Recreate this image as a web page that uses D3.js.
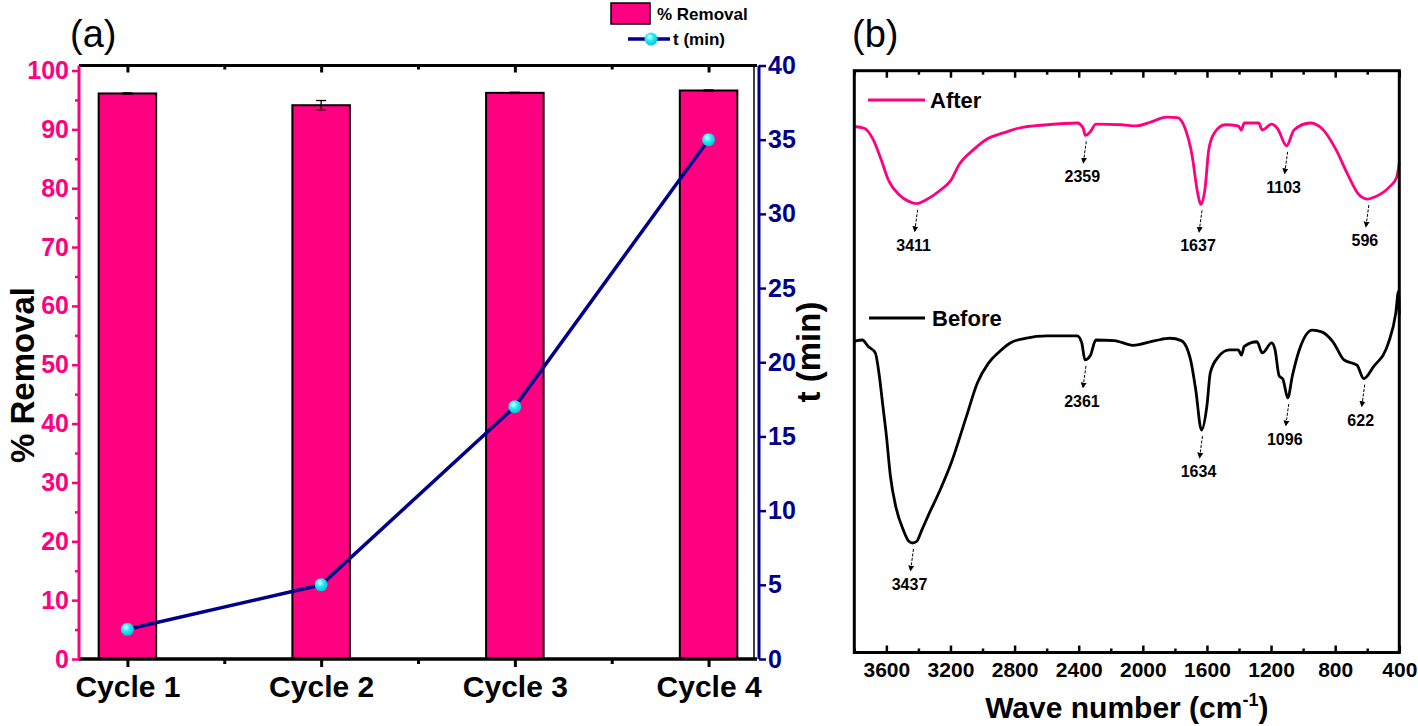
<!DOCTYPE html>
<html>
<head>
<meta charset="utf-8">
<script src="https://cdn.jsdelivr.net/npm/d3@7"></script>
<style>
  body { margin: 0; background: #fff; }
  svg { display: block; font-family: "Liberation Sans", Arial, sans-serif; }
</style>
</head>
<body>
<div id="chart"></div>
<script>
'use strict';

const width = 1418;
const height = 726;

// ---- panel (a) data ----
const cycles = ['Cycle 1', 'Cycle 2', 'Cycle 3', 'Cycle 4'];
const removal = [96.1, 94.1, 96.2, 96.6];
const removalErr = [0.1, 0.8, 0.1, 0.1];
const timeMin = [2, 5, 17, 35];
const removalTicks = [0, 10, 20, 30, 40, 50, 60, 70, 80, 90, 100];
const timeTicks = [0, 5, 10, 15, 20, 25, 30, 35, 40];

// ---- panel (b) data: [wave number, transmittance (a.u.)] ----
const afterSpectrum = [
  [3800, 91.2], [3738, 90.9], [3681, 88.9], [3632, 85.5], [3588, 82.1], [3519, 79.5],
  [3460, 78.4], [3411, 78.0], [3357, 78.6], [3264, 80.3], [3195, 82.1], [3148, 84.6],
  [3058, 87.2], [2964, 89.2], [2870, 90.1], [2777, 90.9], [2596, 91.5], [2409, 91.8],
  [2372, 90.9], [2359, 89.7], [2328, 90.3], [2293, 91.6], [2134, 91.5], [2041, 91.3],
  [1947, 92.0], [1854, 92.8], [1785, 92.7], [1741, 91.2], [1691, 86.0], [1661, 80.3],
  [1637, 77.9], [1611, 80.8], [1589, 87.2], [1554, 90.1], [1486, 91.5], [1405, 91.3],
  [1386, 90.6], [1367, 91.8], [1277, 91.8], [1255, 90.6], [1196, 91.6], [1161, 90.9],
  [1103, 87.9], [1057, 90.6], [957, 91.8], [884, 90.9], [794, 87.2], [725, 83.2],
  [650, 79.5], [596, 78.8], [550, 79.2], [464, 80.8], [418, 82.4], [400, 85.0]
];
const beforeSpectrum = [
  [3800, 54.4], [3783, 54.6], [3750, 54.7], [3713, 53.6], [3669, 52.5], [3644, 48.6],
  [3622, 43.5], [3600, 38.4], [3575, 31.5], [3541, 26.2], [3494, 22.2], [3460, 20.3],
  [3437, 20.0], [3410, 20.3], [3379, 22.2], [3332, 25.1], [3264, 29.1], [3195, 33.7],
  [3101, 41.6], [3033, 47.3], [2964, 50.7], [2895, 52.7], [2827, 54.2], [2733, 55.0],
  [2596, 55.4], [2409, 55.4], [2381, 54.2], [2361, 51.3], [2328, 52.0], [2293, 54.7],
  [2178, 54.6], [2062, 53.8], [1922, 54.6], [1831, 55.0], [1760, 54.6], [1702, 51.3],
  [1670, 46.2], [1634, 39.3], [1600, 43.5], [1579, 49.1], [1529, 51.8], [1461, 53.0],
  [1404, 53.0], [1385, 52.1], [1367, 53.6], [1288, 54.4], [1255, 52.5], [1196, 54.2],
  [1175, 53.0], [1150, 48.6], [1126, 48.0], [1096, 44.8], [1067, 48.6], [1024, 53.0],
  [943, 56.4], [884, 56.1], [814, 54.4], [745, 51.3], [664, 50.4], [622, 48.1],
  [562, 50.1], [468, 54.2], [422, 59.3], [405, 63.0], [400, 59.0]
];
const afterPeaks = [3411, 2359, 1637, 1103, 596];
const beforePeaks = [3437, 2361, 1634, 1096, 622];
const waveTicks = [3600, 3200, 2800, 2400, 2000, 1600, 1200, 800, 400];
const waveMinor = [3800, 3400, 3000, 2600, 2200, 1800, 1400, 1000, 600];

const pink = '#ff0080';
const navy = '#00008b';

const svg = d3.select('#chart').append('svg')
    .attr('width', width)
    .attr('height', height);

svg.append('rect')
    .attr('width', width)
    .attr('height', height)
    .attr('fill', '#fff');

/* ---------------- panel (a) ---------------- */
const aLeft = 79, aRight = 757, aTop = 65.5, aBottom = 659;

const xA = d3.scaleLinear().domain([0.75, 4.25]).range([aLeft, aRight]);
const yL = d3.scaleLinear().domain([0, 100.85]).range([aBottom, aTop]);
const yR = d3.scaleLinear().domain([0, 40]).range([aBottom, aTop]);

const barW = (xA(2) - xA(1)) * 0.297;

const gA = svg.append('g');

// frame lines (top / right, black)
gA.append('line').attr('x1', aLeft).attr('x2', aRight).attr('y1', aTop).attr('y2', aTop)
    .attr('stroke', '#000').attr('stroke-width', 3);
gA.append('line').attr('x1', aRight - 3).attr('x2', aRight - 3).attr('y1', aTop).attr('y2', aBottom)
    .attr('stroke', '#000').attr('stroke-width', 1.5);

// bars
gA.selectAll('rect.bar').data(removal).enter().append('rect')
    .attr('class', 'bar')
    .attr('x', (d, i) => xA(i + 1) - barW / 2)
    .attr('y', d => yL(d))
    .attr('width', barW)
    .attr('height', d => yL(0) - yL(d))
    .attr('fill', pink)
    .attr('stroke', '#000')
    .attr('stroke-width', 2);

// error bars
const err = gA.selectAll('g.err').data(removal).enter().append('g')
    .attr('stroke', '#000').attr('stroke-width', 1.3);
err.append('line')
    .attr('x1', (d, i) => xA(i + 1)).attr('x2', (d, i) => xA(i + 1))
    .attr('y1', (d, i) => yL(d - removalErr[i])).attr('y2', (d, i) => yL(d + removalErr[i]));
err.append('line')
    .attr('x1', (d, i) => xA(i + 1) - 5).attr('x2', (d, i) => xA(i + 1) + 5)
    .attr('y1', (d, i) => yL(d + removalErr[i])).attr('y2', (d, i) => yL(d + removalErr[i]));
err.append('line')
    .attr('x1', (d, i) => xA(i + 1) - 5).attr('x2', (d, i) => xA(i + 1) + 5)
    .attr('y1', (d, i) => yL(d - removalErr[i])).attr('y2', (d, i) => yL(d - removalErr[i]));

// top ticks (inward)
gA.append('g').attr('transform', `translate(0,${aTop})`)
    .call(d3.axisTop(xA).tickValues([1, 2, 3, 4]).tickSize(-7).tickFormat(''))
    .call(g => g.select('.domain').remove())
    .call(g => g.selectAll('line').attr('stroke-width', 3));
gA.append('g').attr('transform', `translate(0,${aTop})`)
    .call(d3.axisTop(xA).tickValues([1.5, 2.5, 3.5]).tickSize(-4).tickFormat(''))
    .call(g => g.select('.domain').remove())
    .call(g => g.selectAll('line').attr('stroke-width', 3));

// bottom axis
gA.append('g').attr('transform', `translate(0,${aBottom})`)
    .call(d3.axisBottom(xA).tickValues([1, 2, 3, 4]).tickSize(8).tickPadding(9)
        .tickFormat(d => cycles[d - 1]))
    .call(g => g.select('.domain').attr('stroke-width', 3.5).attr('d', `M${aLeft},0H${aRight}`))
    .call(g => g.selectAll('line').attr('stroke-width', 3))
    .call(g => g.selectAll('text').attr('font-size', 30).attr('font-weight', 'bold')
        .attr('fill', '#000').attr('font-family', '"Liberation Sans", Arial, sans-serif'));
gA.append('g').attr('transform', `translate(0,${aBottom})`)
    .call(d3.axisBottom(xA).tickValues([1.5, 2.5, 3.5]).tickSize(5).tickFormat(''))
    .call(g => g.select('.domain').remove())
    .call(g => g.selectAll('line').attr('stroke-width', 3));

// left axis (pink)
gA.append('g').attr('transform', `translate(${aLeft},0)`)
    .call(d3.axisLeft(yL).tickValues(removalTicks).tickSize(7).tickPadding(3))
    .call(g => g.select('.domain').attr('stroke', pink).attr('stroke-width', 3)
        .attr('d', `M0,${aBottom}V${aTop}`))
    .call(g => g.selectAll('line').attr('stroke', pink).attr('stroke-width', 2.5))
    .call(g => g.selectAll('text').attr('fill', pink).attr('font-size', 25).attr('font-weight', 'bold')
        .attr('font-family', '"Liberation Sans", Arial, sans-serif'));
gA.append('g').attr('transform', `translate(${aLeft},0)`)
    .call(d3.axisLeft(yL).tickValues(d3.range(5, 100, 10)).tickSize(4).tickFormat(''))
    .call(g => g.select('.domain').remove())
    .call(g => g.selectAll('line').attr('stroke', pink).attr('stroke-width', 2.5));

// right axis (navy)
gA.append('g').attr('transform', `translate(${aRight + 2},0)`)
    .call(d3.axisRight(yR).tickValues(timeTicks).tickSize(7).tickPadding(2))
    .call(g => g.select('.domain').attr('stroke', navy).attr('stroke-width', 3)
        .attr('d', `M0,${aBottom}V${aTop}`))
    .call(g => g.selectAll('line').attr('stroke', navy).attr('stroke-width', 2.5))
    .call(g => g.selectAll('text').attr('fill', navy).attr('font-size', 25).attr('font-weight', 'bold')
        .attr('font-family', '"Liberation Sans", Arial, sans-serif'));

// time line + markers
const lineA = d3.line().x((d, i) => xA(i + 1)).y(d => yR(d));
gA.append('path').datum(timeMin)
    .attr('d', lineA)
    .attr('fill', 'none')
    .attr('stroke', navy)
    .attr('stroke-width', 3.5);

const grad = svg.append('defs').append('radialGradient').attr('id', 'ball')
    .attr('cx', '40%').attr('cy', '35%').attr('r', '65%');
grad.append('stop').attr('offset', '0%').attr('stop-color', '#e8ffff');
grad.append('stop').attr('offset', '45%').attr('stop-color', '#22eef5');
grad.append('stop').attr('offset', '100%').attr('stop-color', '#00c4d6');

gA.selectAll('circle.pt').data(timeMin).enter().append('circle')
    .attr('class', 'pt')
    .attr('cx', (d, i) => xA(i + 1))
    .attr('cy', d => yR(d))
    .attr('r', 6.5)
    .attr('fill', 'url(#ball)');

// axis titles
gA.append('text')
    .attr('transform', `translate(34,375) rotate(-90)`)
    .attr('text-anchor', 'middle')
    .attr('font-size', 33).attr('font-weight', 'bold')
    .text('% Removal');
gA.append('text')
    .attr('transform', `translate(820,352) rotate(-90)`)
    .attr('text-anchor', 'middle')
    .attr('font-size', 33).attr('font-weight', 'bold')
    .text('t (min)');

// panel label
svg.append('text').attr('x', 70).attr('y', 47)
    .attr('font-size', 38).text('(a)');

// legend
const leg = svg.append('g');
leg.append('rect').attr('x', 611).attr('y', 3).attr('width', 39).attr('height', 21)
    .attr('fill', pink).attr('stroke', '#000').attr('stroke-width', 1.5);
leg.append('text').attr('x', 657).attr('y', 20)
    .attr('font-size', 17).attr('font-weight', 'bold').text('% Removal');
leg.append('line').attr('x1', 628).attr('x2', 670).attr('y1', 39).attr('y2', 39)
    .attr('stroke', navy).attr('stroke-width', 3.5);
leg.append('circle').attr('cx', 651).attr('cy', 39).attr('r', 6.5).attr('fill', 'url(#ball)');
leg.append('text').attr('x', 673).attr('y', 45)
    .attr('font-size', 17).attr('font-weight', 'bold').text('t (min)');

/* ---------------- panel (b) ---------------- */
const bLeft = 854.3, bRight = 1399.3, bTop = 70.7, bBottom = 652.5;

const xB = d3.scaleLinear().domain([3800, 400]).range([bLeft, bRight]);
const yB = d3.scaleLinear().domain([1.28, 100.74]).range([bBottom, bTop]);

const gB = svg.append('g');

const lineB = d3.line()
    .x(d => xB(d[0]))
    .y(d => yB(d[1]))
    .curve(d3.curveMonotoneX);

gB.append('path').datum(afterSpectrum)
    .attr('d', lineB).attr('fill', 'none')
    .attr('stroke', pink).attr('stroke-width', 2.8);
gB.append('path').datum(beforeSpectrum)
    .attr('d', lineB).attr('fill', 'none')
    .attr('stroke', '#000').attr('stroke-width', 2.8);

// frame
gB.append('rect')
    .attr('x', bLeft).attr('y', bTop)
    .attr('width', bRight - bLeft).attr('height', bBottom - bTop)
    .attr('fill', 'none').attr('stroke', '#000').attr('stroke-width', 3);

// ticks (inward)
gB.append('g').attr('transform', `translate(0,${bTop})`)
    .call(d3.axisTop(xB).tickValues(waveTicks).tickSize(-7).tickFormat(''))
    .call(g => g.select('.domain').remove())
    .call(g => g.selectAll('line').attr('stroke-width', 2.5));
gB.append('g').attr('transform', `translate(0,${bTop})`)
    .call(d3.axisTop(xB).tickValues(waveMinor).tickSize(-4).tickFormat(''))
    .call(g => g.select('.domain').remove())
    .call(g => g.selectAll('line').attr('stroke-width', 2.5));
gB.append('g').attr('transform', `translate(0,${bBottom})`)
    .call(d3.axisBottom(xB).tickValues(waveTicks).tickSize(-7).tickPadding(10)
        .tickFormat(d3.format('d')))
    .call(g => g.select('.domain').remove())
    .call(g => g.selectAll('line').attr('stroke-width', 2.5))
    .call(g => g.selectAll('text').attr('font-size', 21).attr('font-weight', 'bold')
        .attr('fill', '#000').attr('font-family', '"Liberation Sans", Arial, sans-serif'));
gB.append('g').attr('transform', `translate(0,${bBottom})`)
    .call(d3.axisBottom(xB).tickValues(waveMinor).tickSize(-4).tickFormat(''))
    .call(g => g.select('.domain').remove())
    .call(g => g.selectAll('line').attr('stroke-width', 2.5));

// x title
const xt = gB.append('text')
    .attr('x', (bLeft + bRight) / 2).attr('y', 718)
    .attr('text-anchor', 'middle')
    .attr('font-size', 30).attr('font-weight', 'bold');
xt.append('tspan').text('Wave number (cm');
xt.append('tspan').attr('font-size', 18).attr('dy', -12).text('-1');
xt.append('tspan').attr('dy', 12).text(')');

// peak labels with small arrows
svg.append('defs').append('marker')
    .attr('id', 'arrow').attr('viewBox', '0 0 10 10')
    .attr('refX', 9).attr('refY', 5)
    .attr('markerWidth', 6).attr('markerHeight', 9)
    .attr('orient', 'auto')
    .append('path').attr('d', 'M0,0L10,5L0,10Z').attr('fill', '#000');

function valueAt(spectrum, w) {
  for (let i = 0; i < spectrum.length - 1; i++) {
    const a = spectrum[i], b = spectrum[i + 1];
    if (w <= a[0] && w >= b[0]) {
      const t = (a[0] - w) / (a[0] - b[0]);
      return a[1] + t * (b[1] - a[1]);
    }
  }
  return spectrum[spectrum.length - 1][1];
}

function drawPeaks(spectrum, peaks) {
  peaks.forEach(w => {
    const px = xB(w);
    const py = yB(valueAt(spectrum, w));
    gB.append('line')
        .attr('x1', px + 1).attr('y1', py + 6)
        .attr('x2', px - 2).attr('y2', py + 28)
        .attr('stroke', '#000').attr('stroke-width', 1)
        .attr('stroke-dasharray', '3,1.5')
        .attr('marker-end', 'url(#arrow)');
    gB.append('text')
        .attr('x', px - 3).attr('y', py + 47)
        .attr('text-anchor', 'middle')
        .attr('font-size', 16).attr('font-weight', 'bold')
        .text(w);
  });
}
drawPeaks(afterSpectrum, afterPeaks);
drawPeaks(beforeSpectrum, beforePeaks);

// legend entries
gB.append('line').attr('x1', 868).attr('x2', 925).attr('y1', 100).attr('y2', 100)
    .attr('stroke', pink).attr('stroke-width', 3);
gB.append('text').attr('x', 930).attr('y', 108)
    .attr('font-size', 22).attr('font-weight', 'bold').text('After');
gB.append('line').attr('x1', 869).attr('x2', 925).attr('y1', 318).attr('y2', 318)
    .attr('stroke', '#000').attr('stroke-width', 3);
gB.append('text').attr('x', 932).attr('y', 326)
    .attr('font-size', 22).attr('font-weight', 'bold').text('Before');

// panel label
svg.append('text').attr('x', 852).attr('y', 47)
    .attr('font-size', 38).text('(b)');
</script>
</body>
</html>
